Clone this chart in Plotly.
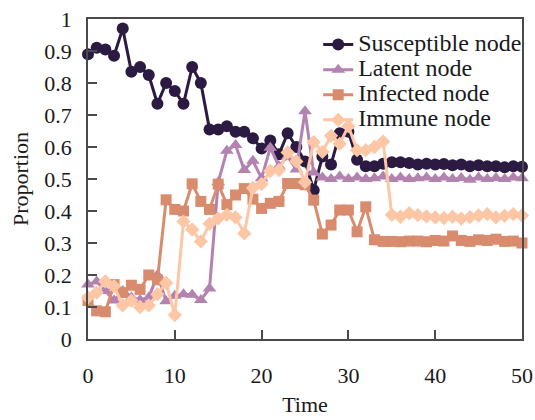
import plotly.graph_objects as go

time = list(range(51))

susceptible = [0.89, 0.91, 0.905, 0.885, 0.97, 0.835, 0.85, 0.825, 0.735, 0.80,
               0.775, 0.735, 0.85, 0.80, 0.655, 0.655, 0.665, 0.648, 0.648, 0.627,
               0.595, 0.62, 0.577, 0.643, 0.60, 0.555, 0.465, 0.57, 0.545, 0.643,
               0.648, 0.56, 0.54, 0.54, 0.548, 0.552, 0.552, 0.55, 0.545, 0.548,
               0.545, 0.547, 0.543, 0.545, 0.54, 0.543, 0.54, 0.54, 0.537, 0.54, 0.538]

latent = [0.17, 0.18, 0.15, 0.12, 0.15, 0.13, 0.122, 0.13, 0.20, 0.118,
          0.135, 0.14, 0.138, 0.122, 0.158, 0.49, 0.588, 0.606, 0.528, 0.557,
          0.502, 0.598, 0.54, 0.57, 0.53, 0.712, 0.52, 0.505, 0.50, 0.508,
          0.50, 0.505, 0.50, 0.502, 0.508, 0.50, 0.505, 0.50, 0.502, 0.505,
          0.50, 0.505, 0.50, 0.503, 0.498, 0.505, 0.50, 0.503, 0.50, 0.505, 0.502]

infected = [0.12, 0.088, 0.085, 0.17, 0.145, 0.168, 0.155, 0.20, 0.185, 0.435,
            0.405, 0.40, 0.485, 0.43, 0.405, 0.484, 0.42, 0.45, 0.47, 0.437,
            0.408, 0.424, 0.43, 0.486, 0.486, 0.482, 0.434, 0.328, 0.356, 0.403,
            0.403, 0.335, 0.413, 0.31, 0.305, 0.305, 0.304, 0.306, 0.306, 0.304,
            0.308, 0.306, 0.322, 0.308, 0.305, 0.31, 0.308, 0.312, 0.305, 0.306, 0.30]

immune = [0.13, 0.145, 0.18, 0.165, 0.105, 0.12, 0.10, 0.105, 0.14, 0.175,
          0.075, 0.367, 0.342, 0.305, 0.36, 0.377, 0.388, 0.38, 0.33, 0.472,
          0.484, 0.525, 0.528, 0.583, 0.555, 0.49, 0.615, 0.585, 0.635, 0.61,
          0.665, 0.59, 0.59, 0.60, 0.617, 0.388, 0.382, 0.393, 0.387, 0.383,
          0.38, 0.378, 0.382, 0.376, 0.381, 0.386, 0.39, 0.38, 0.385, 0.39, 0.386]

series_names = ["Susceptible node", "Latent node", "Infected node", "Immune node"]
series_values = [susceptible, latent, infected, immune]
colors = ["#2b1a42", "#b283b0", "#d98b6d", "#fdc6a5"]
symbols = ["circle", "triangle-up", "square", "diamond"]
sizes = [12, 12, 11, 11]

y_ticks = [i / 10 for i in range(11)]
y_ticklabels = ["0", "0.1", "0.2", "0.3", "0.4", "0.5", "0.6", "0.7", "0.8", "0.9", "1"]
x_ticks = [0, 10, 20, 30, 40, 50]

FONT = "Liberation Serif, Times New Roman, serif"

fig = go.Figure()
for name, vals, c, s, sz in zip(series_names, series_values, colors, symbols, sizes):
    fig.add_trace(go.Scatter(
        x=time, y=vals, mode="lines+markers",
        name=f"<span style='font-size:24px'>{name}</span>",
        line=dict(color=c, width=3),
        marker=dict(color=c, symbol=s, size=sz, line=dict(width=0)),
        cliponaxis=False,
    ))

axis_common = dict(
    showline=True, linecolor="#4a4a4a", linewidth=1.5, mirror=True,
    ticks="inside", ticklen=9, tickwidth=1.5, tickcolor="#4a4a4a",
    showgrid=False, zeroline=False,
    tickfont=dict(family=FONT, size=22, color="#1a1a1a"),
)

fig.update_xaxes(range=[0, 50], tickvals=x_ticks, ticklabelstandoff=16,
                 title=dict(text="Time", font=dict(family=FONT, size=22, color="#1a1a1a"), standoff=9),
                 **axis_common)
fig.update_yaxes(range=[0, 1], tickvals=y_ticks, ticktext=y_ticklabels, ticklabelstandoff=10,
                 title=dict(text="Proportion", font=dict(family=FONT, size=22, color="#1a1a1a"), standoff=10),
                 **axis_common)

fig.update_layout(
    width=535, height=420,
    margin=dict(l=88, r=13, t=19, b=81, autoexpand=False),
    paper_bgcolor="white", plot_bgcolor="white",
    font=dict(family=FONT, size=22, color="#1a1a1a"),
    showlegend=True,
    legend=dict(x=1.012, xanchor="right", y=0.975, yanchor="top",
                bgcolor="rgba(0,0,0,0)", borderwidth=0,
                font=dict(family=FONT, size=17, color="#1a1a1a"),
                itemwidth=30),
)

fig.write_html("out.html")
